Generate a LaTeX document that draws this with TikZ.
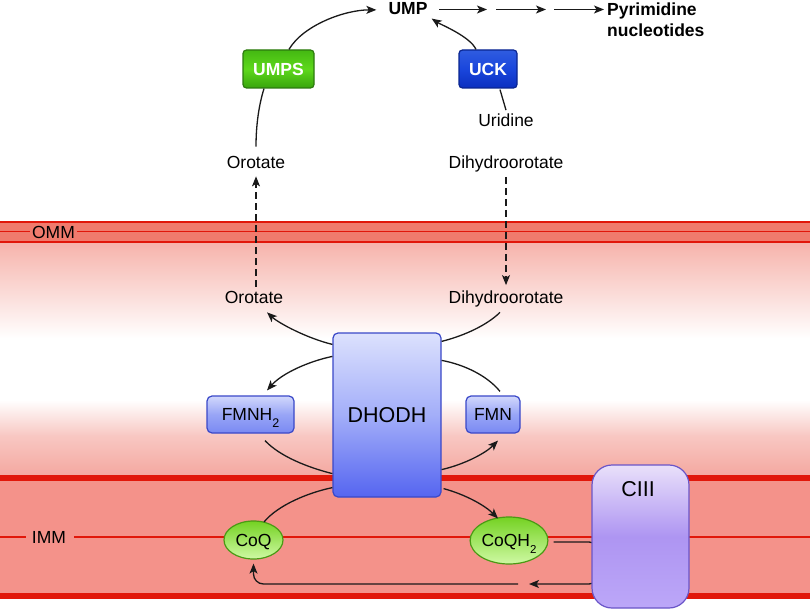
\documentclass[tikz,border=0pt]{standalone}
\usepackage{fontspec}
\setmainfont{Liberation Sans}
\usetikzlibrary{arrows.meta,calc,shapes.geometric}
\definecolor{memred}{HTML}{E1170A}
\definecolor{ommfill}{HTML}{F07B6D}
\definecolor{immfill}{HTML}{F4928A}
\definecolor{imsA}{HTML}{F6B3AB}
\definecolor{imsB}{HTML}{F8C8C3}
\definecolor{imsC}{HTML}{F4A69E}
\definecolor{conline}{HTML}{1A1A1A}
\definecolor{dhTop}{HTML}{DCE1FD}
\definecolor{dhMid}{HTML}{A3AEF9}
\definecolor{dhBot}{HTML}{5565F0}
\definecolor{dhBorder}{HTML}{3A48C8}
\definecolor{fmTop}{HTML}{D2D8FC}
\definecolor{fmMid}{HTML}{98A5F6}
\definecolor{fmBot}{HTML}{7A89F3}
\definecolor{c3Top}{HTML}{E9E0FA}
\definecolor{c3Mid}{HTML}{AE95F2}
\definecolor{c3Bot}{HTML}{BCA7F8}
\definecolor{c3Border}{HTML}{6A55C8}
\definecolor{gTop}{HTML}{74D222}
\definecolor{gBot}{HTML}{CFF9A4}
\definecolor{gBorder}{HTML}{4A9A14}
\definecolor{umTop}{HTML}{44B812}
\definecolor{umMid}{HTML}{5ED81C}
\definecolor{umBot}{HTML}{38A50C}
\definecolor{umBorder}{HTML}{2C7A0E}
\definecolor{ucTop}{HTML}{2F5CE0}
\definecolor{ucMid}{HTML}{1A46DC}
\definecolor{ucBot}{HTML}{0B2FBF}
\definecolor{ucBorder}{HTML}{0A2590}
\newcommand{\lowtwo}[1]{\raisebox{-7pt}{\fontsize{#1}{#1}\selectfont 2}}
\tikzset{
  lbl/.style={inner sep=0pt, anchor=base, text=black},
  con/.style={line width=1.3pt, draw=conline},
  arr/.style={-{Stealth[length=10pt,width=8pt,inset=2.5pt]}},
  dashcon/.style={dash pattern=on 7pt off 4pt},
  dhbox/.style={rectangle, rounded corners=5pt, draw=dhBorder, line width=1.2pt,
    top color=dhTop, bottom color=dhBot, middle color=dhMid, inner sep=0pt},
  fmbox/.style={rectangle, rounded corners=5pt, draw=dhBorder, line width=1.2pt,
    top color=fmTop, bottom color=fmBot, middle color=fmMid, inner sep=0pt,
    minimum height=37pt, text height=12.6pt, text depth=0pt},
  c3box/.style={rectangle, rounded corners=20pt, draw=c3Border, line width=1.2pt,
    top color=c3Top, bottom color=c3Bot, middle color=c3Mid, inner sep=0pt},
  qball/.style={ellipse, draw=gBorder, line width=1.2pt, top color=gTop,
    bottom color=gBot, inner sep=0pt, text height=12.6pt, text depth=0pt},
  umbox/.style={rectangle, rounded corners=3.5pt, draw=umBorder, line width=1.2pt,
    top color=umTop, bottom color=umBot, middle color=umMid, inner sep=0pt,
    minimum height=38pt, text=white, font=\fontsize{17.5}{21}\selectfont\bfseries},
  ucbox/.style={rectangle, rounded corners=3.5pt, draw=ucBorder, line width=1.2pt,
    top color=ucTop, bottom color=ucBot, middle color=ucMid, inner sep=0pt,
    minimum height=38pt, text=white, font=\fontsize{17.5}{21}\selectfont\bfseries}
}
\begin{document}
\begin{tikzpicture}[x=1pt,y=-1pt,font=\fontsize{17.5}{21}\selectfont]
\useasboundingbox (0,0) rectangle (810,609);
% ---------- background ----------
\fill[white] (0,0) rectangle (810,609);
\fill[top color=imsA, bottom color=white] (0,242) rectangle (810,338.5);
\fill[white] (0,338) rectangle (810,400.5);
\fill[top color=white, bottom color=imsB] (0,400) rectangle (810,435.5);
\fill[top color=imsB, bottom color=imsC] (0,435) rectangle (810,478);
% OMM
\fill[ommfill] (0,222) rectangle (810,242);
\draw[memred, line width=2.3pt] (0,222) -- (810,222);
\draw[memred, line width=2.3pt] (0,242) -- (810,242);
\draw[memred, line width=1pt] (0,232) -- (30,232);
\draw[memred, line width=1pt] (77,232) -- (810,232);
% IMM
\fill[immfill] (0,478) rectangle (810,596);
\draw[memred, line width=5.5pt] (0,478) -- (810,478);
\draw[memred, line width=5.5pt] (0,596) -- (810,596);
\draw[memred, line width=2.2pt] (0,537) -- (26,537);
\draw[memred, line width=2.2pt] (74,537) -- (810,537);
\node[lbl] (omm) at (53.5,239) {OMM};
\node[lbl] (imm) at (49,543) {IMM};
% ---------- text nodes ----------
\node[lbl] (ump) at (408,15) {\bfseries UMP};
\node[lbl, anchor=base west] (pyr) at (607,15.5) {\bfseries Pyrimidine};
\node[lbl, anchor=base west] (nuc) at (607,37) {\bfseries nucleotides};
\node[lbl] (uri) at (506,127) {Uridine};
\node[lbl] (oro1) at (256,169) {Orotate};
\node[lbl] (dih1) at (506,169) {Dihydroorotate};
\node[lbl] (oro2) at (254,303) {Orotate};
\node[lbl] (dih2) at (506,303) {Dihydroorotate};
% ---------- boxes ----------
\node[umbox, minimum width=71pt] (umps) at (278.5,69) {UMPS};
\node[ucbox, minimum width=58pt] (uck) at (488,69) {UCK};
\node[dhbox, minimum width=108pt, minimum height=164pt,
      font=\fontsize{21.5}{25}\selectfont] (dhodh) at (387,415) {DHODH};
\node[fmbox, minimum width=87pt] (fmnh) at (250.5,414.5) {FMNH\lowtwo{12.5}};
\node[fmbox, minimum width=54pt] (fmn) at (493,414.5) {FMN};
\node[qball, minimum width=59pt, minimum height=38pt] (coq) at (253.5,540) {CoQ};
\node[qball, minimum width=70pt, minimum height=47pt] (coqh) at (509,540.5) {CoQH\lowtwo{11.5}};
% ---------- connectors ----------
\coordinate (m1) at (439,9.5);
\coordinate (m2) at (487,9.5);
\coordinate (m3) at (496,9.5);
\coordinate (m4) at (546,9.5);
\coordinate (m5) at (554,9.5);
\coordinate (m6) at (604,9.5);
\draw[con,arr] (m1) -- (m2);
\draw[con,arr] (m3) -- (m4);
\draw[con,arr] (m5) -- (m6);
\draw[con,arr] ($(umps.north)+(10.5,0)$) .. controls +(14,-24) and +(-32,0) .. ($(ump.west)+(-12,0.8)$);
\draw[con,arr] ($(uck.north)+(-12,0)$) .. controls +(-6,-13) and +(9,6) .. ($(ump.east)+(4,9.5)$);
\draw[con] ($(umps.south)+(-14.5,0)$) .. controls +(-5,16) and +(0,-22) .. ($(oro1.north)+(0,-10)$);
\draw[con] ($(uri.north)+(0,-4)$) -- ($(uck.south)+(12,1)$);
\draw[con,arr,dashcon] ($(oro2.north)+(2,-4)$) -- ($(oro1.south)+(0,7)$);
\draw[con,arr,dashcon] ($(dih1.south)+(0,4)$) -- ($(dih2.north)+(0,-5)$);
\draw[con,arr] ($(dhodh.north west)+(0,12)$) .. controls +(-25,-6) and +(12,11) .. ($(oro2.south)+(13,9)$);
\draw[con] ($(dih2.south)+(-6,5.5)$) .. controls +(-12,12) and +(24,-6) .. ($(dhodh.north east)+(0,9)$);
\draw[con,arr] ($(dhodh.north west)+(0,24)$) .. controls +(-24,5) and +(15,-17) .. ($(fmnh.north)+(16.5,-5)$);
\draw[con] ($(fmnh.south)+(14.5,7)$) .. controls +(15,16) and +(-24,-6) .. ($(dhodh.south west)+(0,-24)$);
\draw[con] ($(fmn.north)+(7,-4)$) .. controls +(-13,-16) and +(22,4) .. ($(dhodh.north east)+(0,28)$);
\draw[con,arr] ($(dhodh.south east)+(0,-28)$) .. controls +(22,-5) and +(-13,13) .. ($(fmn.south)+(5,7)$);
\draw[con] ($(dhodh.south west)+(0,-10)$) .. controls +(-24,5) and +(14,-17) .. ($(coq.center)+(10.5,-18)$);
\draw[con,arr] ($(dhodh.south east)+(2,-9)$) .. controls +(22,6) and +(-13,-13) .. ($(coqh.center)+(-11,-22)$);
\coordinate (r1) at (529,584);
\coordinate (r2) at (518,584);
\draw[con,arr,rounded corners=9pt] ($(coqh.east)+(5,1.5)$) -- (598,542) -- (598,584) -- (r1);
\draw[con,arr,rounded corners=10pt] (r2) -| ($(coq.south)+(0,4)$);
% ---------- complex III ----------
\node[c3box, minimum width=97pt, minimum height=143pt] (ciii) at (640.5,536.5) {};
\node[lbl, font=\fontsize{21.5}{25}\selectfont] (ciiit) at (638,496) {CIII};
\end{tikzpicture}
\end{document}
